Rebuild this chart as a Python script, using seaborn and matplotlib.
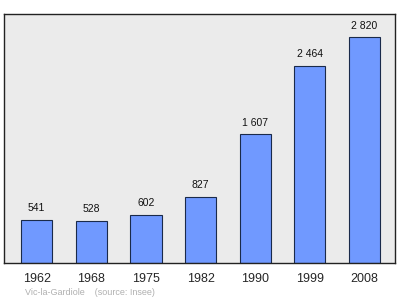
import matplotlib
matplotlib.use("Agg")
import matplotlib.pyplot as plt
import seaborn as sns
import pandas as pd

years = ["1962", "1968", "1975", "1982", "1990", "1999", "2008"]
population = [541, 528, 602, 827, 1607, 2464, 2820]
labels = ["541", "528", "602", "827", "1 607", "2 464", "2 820"]

df = pd.DataFrame({"year": years, "pop": population})

sns.set_style("white")
plt.rcParams["font.family"] = ["Liberation Sans", "DejaVu Sans"]

fig = plt.figure(figsize=(4.0, 2.99), dpi=100)
ax = fig.add_axes([0.0105, 0.1204, 0.977, 0.8328])
ax.set_facecolor("#ebebeb")
sns.barplot(data=df, x="year", y="pop", color="#7099ff", width=0.57,
            edgecolor="#1a2a4a", linewidth=0.8, saturation=1, ax=ax)
for i, (v, t) in enumerate(zip(population, labels)):
    ax.text(i, v + 80, t, ha="center", va="bottom", fontsize=7.5, color="#111111")
ax.set_xlim(-0.594, 6.557)
ax.set_ylim(0, 3108)
ax.set_yticks([])
ax.set_xlabel("")
ax.set_ylabel("")
ax.tick_params(axis="x", length=0, labelsize=9, pad=7)
for s in ax.spines.values():
    s.set_color("#222222")
    s.set_linewidth(1.0)
fig.text(0.0625, 0.012, "Vic-la-Gardiole    (source: Insee)", fontsize=6.5, color="#b0b0b0")
fig.savefig("out.png", dpi=100)
